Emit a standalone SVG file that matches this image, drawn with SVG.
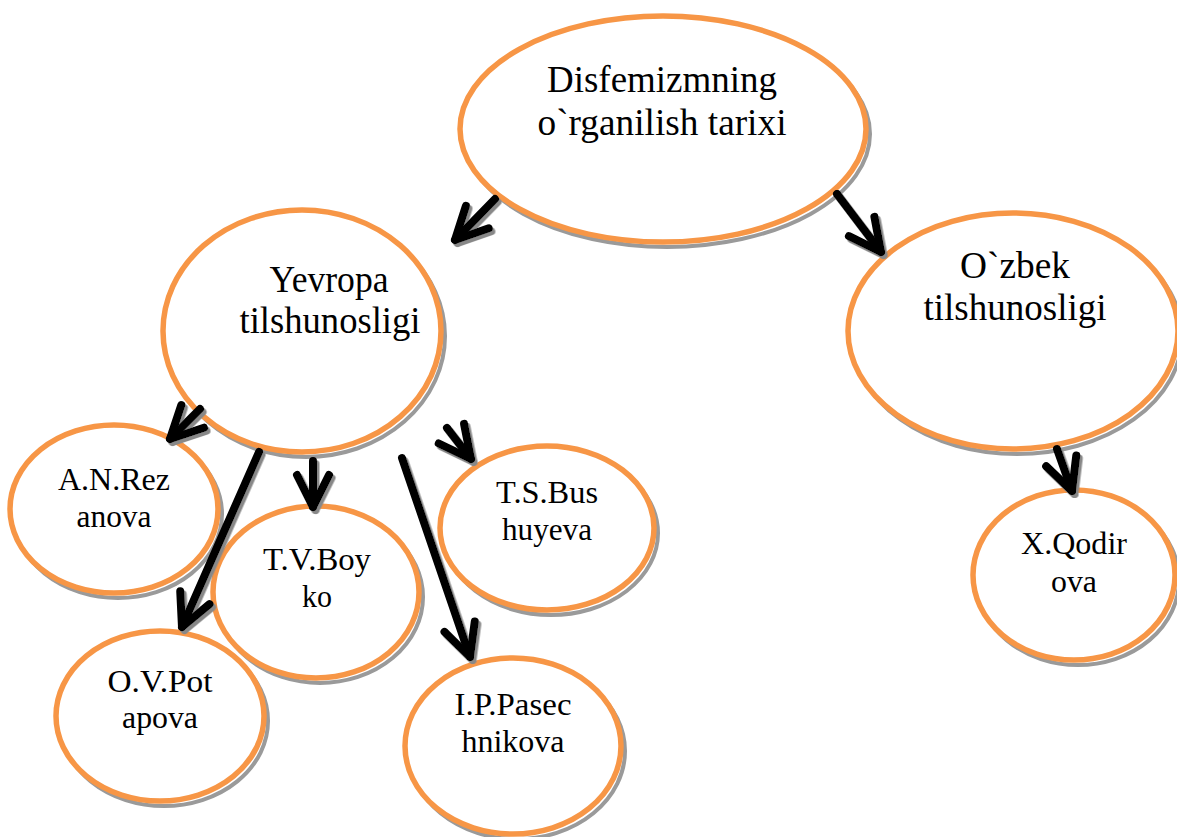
<svg xmlns="http://www.w3.org/2000/svg" width="1177" height="837" viewBox="0 0 1177 837">
<style>
.sh{fill:none;stroke:#9a9a9a;stroke-width:4}
.n{fill:#fff;stroke:#F79646;stroke-width:5.5}
.t{font-family:"Liberation Serif","DejaVu Serif",serif;fill:#000;text-anchor:middle}
.big{font-size:37px}
.sm{font-size:32px}
.c{fill:none;stroke:#000;stroke-width:8;stroke-linecap:round;marker-end:url(#ah)}
</style>
<defs>
<marker id="ah" markerUnits="userSpaceOnUse" viewBox="-44 -24 50 48" refX="0" refY="0" markerWidth="50" markerHeight="48" orient="auto">
<path d="M-32,-16 L0,0 L-32,16" fill="none" stroke="#000" stroke-width="8" stroke-linecap="round" stroke-linejoin="round"/>
</marker>
<filter id="ds" x="-10%" y="-10%" width="120%" height="120%">
<feDropShadow dx="2.5" dy="3" stdDeviation="0.4" flood-color="#888" flood-opacity="1"/>
</filter>
</defs>
<rect width="1177" height="837" fill="#fff"/>
<g id="node-top">
<ellipse class="sh" cx="667" cy="134" rx="203" ry="113"/>
<ellipse class="n" cx="663" cy="129" rx="203" ry="113"/>
<text class="t big" x="662" y="92" textLength="230" lengthAdjust="spacingAndGlyphs">Disfemizmning</text>
<text class="t big" x="662" y="135" textLength="249" lengthAdjust="spacingAndGlyphs">o`rganilish tarixi</text>
</g>
<g id="node-yevropa">
<ellipse class="sh" cx="306" cy="336" rx="139" ry="121"/>
<ellipse class="n" cx="302" cy="331" rx="139" ry="121"/>
<text class="t big" x="329" y="292" textLength="119" lengthAdjust="spacingAndGlyphs">Yevropa</text>
<text class="t big" x="330" y="333" textLength="181" lengthAdjust="spacingAndGlyphs">tilshunosligi</text>
</g>
<g id="node-ozbek">
<ellipse class="sh" cx="1017" cy="336" rx="165" ry="118"/>
<ellipse class="n" cx="1013" cy="331" rx="165" ry="118"/>
<text class="t big" x="1015" y="278" textLength="110" lengthAdjust="spacingAndGlyphs">O`zbek</text>
<text class="t big" x="1015" y="320" textLength="183" lengthAdjust="spacingAndGlyphs">tilshunosligi</text>
</g>
<g id="node-reznova">
<ellipse class="sh" cx="118" cy="514" rx="104" ry="84"/>
<ellipse class="n" cx="114" cy="509" rx="104" ry="84"/>
<text class="t sm" x="114" y="490" textLength="112" lengthAdjust="spacingAndGlyphs">A.N.Rez</text>
<text class="t sm" x="114" y="527" textLength="75" lengthAdjust="spacingAndGlyphs">anova</text>
</g>
<g id="node-potapova">
<ellipse class="sh" cx="164" cy="721" rx="104" ry="85"/>
<ellipse class="n" cx="160" cy="716" rx="104" ry="85"/>
<text class="t sm" x="160" y="692" textLength="105" lengthAdjust="spacingAndGlyphs">O.V.Pot</text>
<text class="t sm" x="160" y="728" textLength="76" lengthAdjust="spacingAndGlyphs">apova</text>
</g>
<g id="node-boyko">
<ellipse class="sh" cx="320" cy="597" rx="103" ry="86"/>
<ellipse class="n" cx="316" cy="592" rx="103" ry="86"/>
<text class="t sm" x="317" y="570" textLength="108" lengthAdjust="spacingAndGlyphs">T.V.Boy</text>
<text class="t sm" x="317" y="607" textLength="30" lengthAdjust="spacingAndGlyphs">ko</text>
</g>
<g id="node-busygina">
<ellipse class="sh" cx="551" cy="533" rx="107" ry="82"/>
<ellipse class="n" cx="547" cy="528" rx="107" ry="82"/>
<text class="t sm" x="547" y="503" textLength="102" lengthAdjust="spacingAndGlyphs">T.S.Bus</text>
<text class="t sm" x="547" y="540" textLength="90" lengthAdjust="spacingAndGlyphs">huyeva</text>
</g>
<g id="node-pasechnikova">
<ellipse class="sh" cx="517" cy="751" rx="108" ry="88"/>
<ellipse class="n" cx="513" cy="746" rx="108" ry="88"/>
<text class="t sm" x="513" y="715" textLength="117" lengthAdjust="spacingAndGlyphs">I.P.Pasec</text>
<text class="t sm" x="513" y="752" textLength="103" lengthAdjust="spacingAndGlyphs">hnikova</text>
</g>
<g id="node-qodirova">
<ellipse class="sh" cx="1078" cy="580" rx="101" ry="85"/>
<ellipse class="n" cx="1074" cy="575" rx="101" ry="85"/>
<text class="t sm" x="1074" y="554" textLength="106" lengthAdjust="spacingAndGlyphs">X.Qodir</text>
<text class="t sm" x="1074" y="592" textLength="46" lengthAdjust="spacingAndGlyphs">ova</text>
</g>
<g id="connectors" filter="url(#ds)">
<line class="c" x1="495" y1="199" x2="455" y2="240"/>
<line class="c" x1="837" y1="194" x2="881" y2="252"/>
<line class="c" x1="200" y1="409" x2="170" y2="439"/>
<line class="c" x1="259" y1="452" x2="182" y2="627"/>
<line class="c" x1="313" y1="461" x2="313" y2="507"/>
<line class="c" x1="402" y1="458" x2="470" y2="657"/>
<line class="c" x1="447" y1="428" x2="471" y2="459"/>
<line class="c" x1="1057" y1="449" x2="1072" y2="491"/>
</g>
</svg>
